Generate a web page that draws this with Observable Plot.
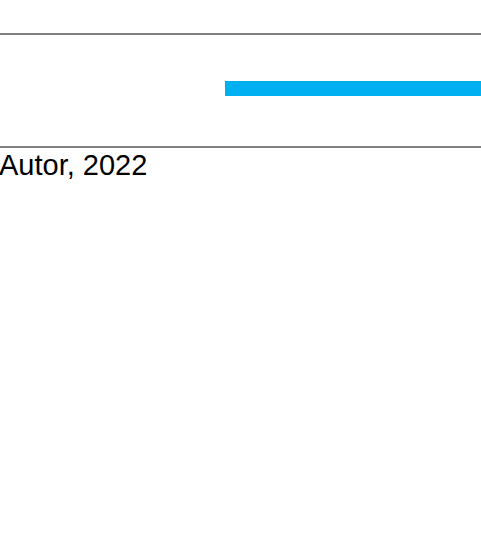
<!DOCTYPE html>
<html>
<head>
<meta charset="utf-8">
<script src="https://cdn.jsdelivr.net/npm/d3@7"></script>
<script src="https://cdn.jsdelivr.net/npm/@observablehq/plot@0.6"></script>
<style>
  html, body { margin: 0; padding: 0; background: #ffffff; }
  body { width: 481px; height: 533px; overflow: hidden; font-family: "Liberation Sans", Arial, sans-serif; }
  #spacer { height: 33px; }
  #chart { border-top: 2px solid #7f7f7f; border-bottom: 2px solid #7f7f7f; height: 111px; }
  #chart svg { display: block; }
  #source { font-size: 29px; color: #000; margin-top: 1px; margin-left: -1px; line-height: 1.15; }
</style>
</head>
<body>
<div id="spacer"></div>
<div id="chart"></div>
<div id="source"></div>
<script>
const categories = [""];
const values = [100];
const xDomain = [0, 100];
const sourceText = "Autor, 2022";

const data = categories.map((c, i) => ({category: c, value: values[i]}));

const chart = Plot.plot({
  width: 481,
  height: 111,
  marginLeft: 225,
  marginRight: 0,
  marginTop: 0,
  marginBottom: 5,
  x: {domain: xDomain, axis: null},
  y: {domain: categories, axis: null, padding: 0.75},
  style: {background: "transparent"},
  marks: [
    Plot.barX(data, {x: "value", y: "category", fill: "#00B0F0", clip: true})
  ]
});
document.getElementById("chart").appendChild(chart);
document.getElementById("source").textContent = sourceText;
</script>
</body>
</html>
